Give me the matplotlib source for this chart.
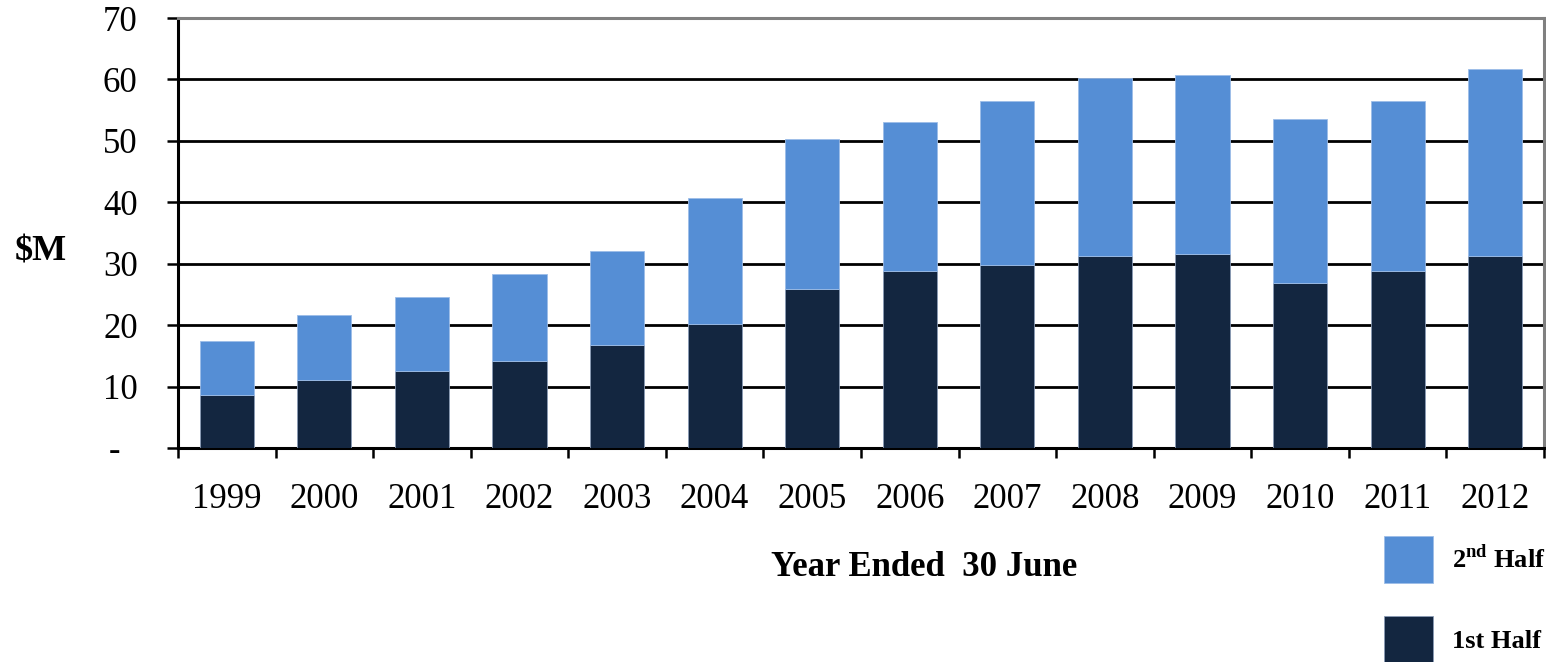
import matplotlib.pyplot as plt
import numpy as np

plt.rcParams['font.family'] = ['Liberation Serif', 'DejaVu Serif']
plt.rcParams['mathtext.fontset'] = 'custom'
plt.rcParams['mathtext.rm'] = 'Liberation Serif'
plt.rcParams['mathtext.bf'] = 'Liberation Serif:bold'

years = ['1999', '2000', '2001', '2002', '2003', '2004', '2005',
         '2006', '2007', '2008', '2009', '2010', '2011', '2012']
first_half = [8.7, 11.1, 12.6, 14.1, 16.8, 20.2, 25.9,
              28.8, 29.8, 31.2, 31.6, 26.9, 28.8, 31.2]
second_half_total = [17.4, 21.6, 24.5, 28.3, 32.1, 40.7, 50.3,
                     53.1, 56.5, 60.2, 60.7, 53.6, 56.5, 61.7]
second_half = [t - f for t, f in zip(second_half_total, first_half)]

y_ticks = [0, 10, 20, 30, 40, 50, 60, 70]
y_tick_labels = ['-  ', '10', '20', '30', '40', '50', '60', '70']

dark = '#132640'
light = '#558ED5'

fig = plt.figure(figsize=(15.46, 6.62), dpi=100)
ax = fig.add_axes([0.1151, 0.3233, 0.8836, 0.6495])

x = np.arange(len(years))
b1 = ax.bar(x, first_half, width=0.555, color=dark, edgecolor='#8a9bb5',
            linewidth=0.6, zorder=3, label='1st Half')
b2 = ax.bar(x, second_half, bottom=first_half, width=0.555, color=light,
            edgecolor='#9dbde8', linewidth=0.6, zorder=3,
            label=r'2$^{\mathbf{nd}}$ Half')

ax.set_xlim(-0.5, len(years) - 0.5)
ax.set_ylim(0, 70)
ax.set_yticks(y_ticks)
ax.set_yticklabels(y_tick_labels)
ax.set_xticks(x)
ax.set_xticklabels(years)
ax.set_xticks(np.arange(-0.5, len(years), 1.0), minor=True)

ax.yaxis.grid(True, color='black', linewidth=2.0, zorder=0)
ax.set_axisbelow(True)

ax.tick_params(axis='y', labelsize=25, length=8, width=1.8, pad=21)
ax.tick_params(axis='x', which='major', labelsize=25, length=0, pad=25)
ax.tick_params(axis='x', which='minor', length=7, width=1.8)

for s in ['left', 'bottom']:
    ax.spines[s].set_linewidth(2.2)
    ax.spines[s].set_color('black')
for s in ['top', 'right']:
    ax.spines[s].set_linewidth(2.2)
    ax.spines[s].set_color('#808080')

fig.text(0.0097, 0.62, '$M', fontsize=26, fontweight='bold', va='center', ha='left')
fig.text(0.598, 0.142, 'Year Ended  30 June', fontsize=25, fontweight='bold',
         va='center', ha='center')

fig.legend(handles=[b2, b1], loc='upper left',
           bbox_to_anchor=(1384 / 1546, 1 - 536 / 662),
           bbox_transform=fig.transFigure, frameon=False,
           prop={'size': 19, 'weight': 'bold'}, borderpad=0, borderaxespad=0,
           handlelength=1.86, handleheight=2.36, labelspacing=1.25,
           handletextpad=0.72)

fig.savefig('out.png', dpi=100)
